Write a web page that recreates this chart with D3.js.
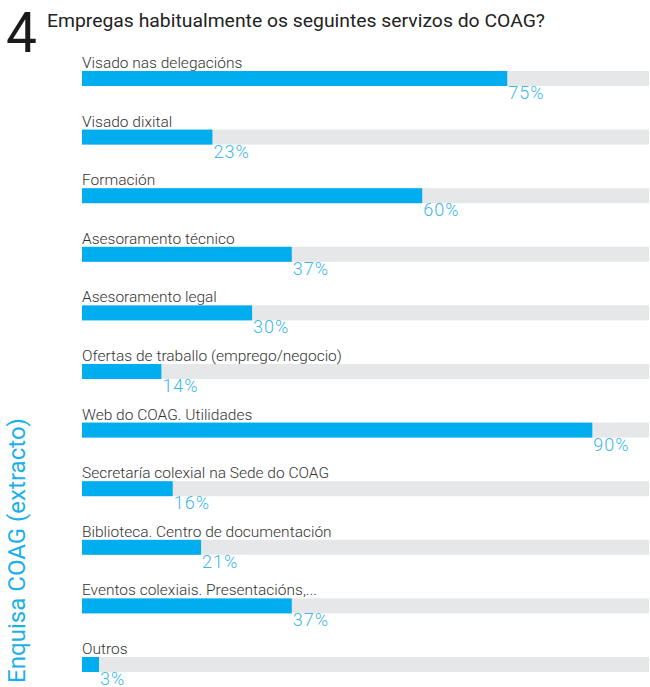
<!DOCTYPE html>
<html>
<head>
<meta charset="utf-8">
<script src="https://cdn.jsdelivr.net/npm/d3@7"></script>
<style>
  body { margin: 0; background: #fff; }
  text { font-family: Roboto, "Liberation Sans", sans-serif; }
</style>
</head>
<body>
<div id="chart"></div>
<script>
var categories = [
  'Visado nas delegacións',
  'Visado dixital',
  'Formación',
  'Asesoramento técnico',
  'Asesoramento legal',
  'Ofertas de traballo (emprego/negocio)',
  'Web do COAG. Utilidades',
  'Secretaría colexial na Sede do COAG',
  'Biblioteca. Centro de documentación',
  'Eventos colexiais. Presentacións,...',
  'Outros'
];
var values = [75, 23, 60, 37, 30, 14, 90, 16, 21, 37, 3];
var data = categories.map(function(c, i) { return {label: c, value: values[i]}; });

var width = 650, height = 687;
var barH = 15;

var svg = d3.select('#chart')
    .append('svg')
    .attr('width', width)
    .attr('height', height);

var x = d3.scaleLinear().domain([0, 100]).range([82, 649]);
var y = d3.scalePoint().domain(categories).range([71, 657]);

// question number + title
svg.append('text')
    .attr('x', 6)
    .attr('y', 52)
    .attr('font-size', 55)
    .attr('fill', '#1a1a1a')
    .text('4');

svg.append('text')
    .attr('x', 47)
    .attr('y', 27)
    .attr('font-size', 17.5)
    .attr('fill', '#222')
    .attr('textLength', 498)
    .attr('lengthAdjust', 'spacingAndGlyphs')
    .text('Empregas habitualmente os seguintes servizos do COAG?');

// side label
svg.append('text')
    .attr('transform', 'translate(25,683)rotate(-90)')
    .attr('font-size', 24)
    .attr('fill', '#1ab0ea')
    .attr('textLength', 265)
    .attr('lengthAdjust', 'spacingAndGlyphs')
    .text('Enquisa COAG (extracto)');

var row = svg.selectAll('g.row')
    .data(data)
    .enter()
    .append('g')
    .attr('class', 'row');

row.append('rect')
    .attr('x', x(0))
    .attr('y', function(d) { return y(d.label); })
    .attr('width', x(100) - x(0))
    .attr('height', barH)
    .attr('fill', '#e6e7e8');

row.append('rect')
    .attr('x', x(0))
    .attr('y', function(d) { return y(d.label); })
    .attr('width', function(d) { return x(d.value) - x(0); })
    .attr('height', barH)
    .attr('fill', '#00aeef');

row.append('text')
    .attr('x', x(0))
    .attr('y', function(d) { return y(d.label) - 3; })
    .attr('font-size', 15.5)
    .attr('font-weight', 300)
    .attr('fill', '#333')
    .text(function(d) { return d.label; });

row.append('text')
    .attr('x', function(d) { return x(d.value) + 1; })
    .attr('y', function(d) { return y(d.label) + 28; })
    .attr('font-size', 18)
    .attr('font-weight', 300)
    .attr('letter-spacing', 1)
    .attr('fill', '#3db8ec')
    .text(function(d) { return d.value + '%'; });
</script>
</body>
</html>
